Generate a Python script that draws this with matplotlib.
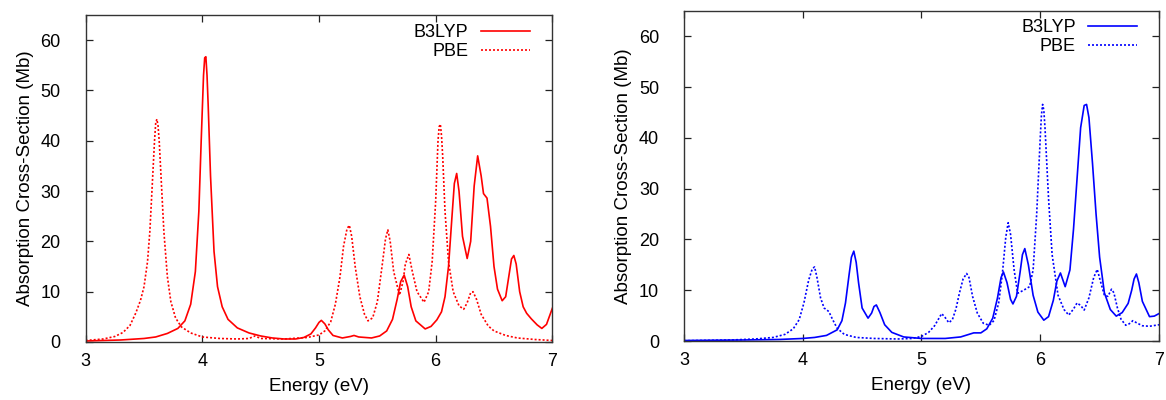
import matplotlib
matplotlib.use("Agg")
import matplotlib.pyplot as plt

plt.rcParams["font.family"] = ["Liberation Sans", "DejaVu Sans"]

# left panel (red): energies (eV) and cross-sections (Mb)
red_b3lyp_e = [3.0, 3.3, 3.5, 3.6, 3.7, 3.79, 3.85, 3.9, 3.94, 3.97, 3.99, 4.01, 4.02, 4.03,
               4.04, 4.05, 4.07, 4.1, 4.13, 4.17, 4.22, 4.3, 4.4, 4.5, 4.6, 4.7, 4.8, 4.87,
               4.93, 4.97, 5.0, 5.02, 5.05, 5.08, 5.12, 5.2, 5.27, 5.3, 5.34, 5.45,
               5.52, 5.58, 5.63, 5.67, 5.7, 5.73, 5.76, 5.79, 5.83, 5.91, 5.96, 6.01,
               6.05, 6.08, 6.11, 6.14, 6.16, 6.18, 6.2, 6.23, 6.27, 6.3, 6.33, 6.36,
               6.39, 6.41, 6.44, 6.47, 6.5, 6.53, 6.57, 6.6, 6.63, 6.65, 6.67, 6.69,
               6.72, 6.75, 6.78, 6.82, 6.87, 6.91, 6.95, 7.0]
red_b3lyp_y = [0.2, 0.4, 0.7, 1.0, 1.7, 2.7, 4.2, 7.5, 14, 26, 40, 53, 56.5, 56.7,
               53, 47, 33, 18, 11, 7, 4.5, 2.8, 1.8, 1.2, 0.8, 0.6, 0.6, 0.9,
               1.6, 2.8, 3.9, 4.3, 3.6, 2.4, 1.3, 0.8, 1.1, 1.3, 1.0, 0.8,
               1.2, 2.2, 4.5, 8.5, 12, 13.3, 11, 7, 4.2, 2.6, 3.1, 4.4,
               6.0, 9.0, 15, 25, 31.5, 33.5, 30, 21, 16.6, 20, 31, 37,
               33, 29.5, 28.6, 23, 15, 10.5, 8.2, 9.0, 13.5, 16.5, 17.2, 15.5,
               10, 7, 5.7, 4.6, 3.4, 2.7, 3.5, 6.7]

red_pbe_e = [3.0, 3.15, 3.25, 3.32, 3.38, 3.43, 3.47, 3.5, 3.53, 3.55, 3.57, 3.59, 3.6, 3.61,
             3.62, 3.63, 3.65, 3.67, 3.7, 3.73, 3.77, 3.82, 3.9, 4.0, 4.15, 4.3, 4.4, 4.45,
             4.5, 4.7, 4.9, 5.0, 5.05, 5.1, 5.14, 5.18, 5.21, 5.24, 5.26, 5.28, 5.31,
             5.35, 5.39, 5.42, 5.46, 5.5, 5.54, 5.57, 5.59, 5.61, 5.64, 5.69, 5.72,
             5.74, 5.77, 5.8, 5.84, 5.9, 5.94, 5.97, 6.0, 6.02, 6.03, 6.04, 6.05, 6.06,
             6.08, 6.11, 6.15, 6.2, 6.24, 6.27, 6.3, 6.32, 6.35, 6.39, 6.45, 6.5, 6.6,
             6.7, 6.85, 7.0]
red_pbe_y = [0.3, 0.6, 1.1, 1.9, 3.3, 5.8, 8.3, 11, 16, 22, 31, 40, 43.5, 44.3,
             43, 40, 31, 22, 13, 8, 4.8, 3.0, 1.8, 1.0, 0.7, 0.6, 0.7, 1.2,
             0.7, 0.6, 0.9, 1.4, 2.2, 4.0, 7.5, 13, 19, 22.5, 23.2, 21, 15,
             9, 5.5, 4.2, 4.8, 8, 15, 20.5, 22.3, 20, 14, 9.3, 12,
             15.5, 17.4, 14, 10, 7.9, 10, 16, 28, 40, 42.8, 43.3, 41, 37,
             26, 16, 10, 7.2, 6.5, 7.8, 9.8, 10, 8.5, 5.5, 3.2, 2.2, 1.3,
             0.8, 0.5, 0.3]

# right panel (blue)
blue_b3lyp_e = [3.0, 3.5, 3.8, 4.0, 4.1, 4.2, 4.29, 4.33, 4.36, 4.39, 4.41, 4.43, 4.45,
                4.47, 4.5, 4.55, 4.58, 4.6, 4.62, 4.65, 4.69, 4.75, 4.85, 5.0, 5.2,
                5.33, 5.44, 5.5, 5.55, 5.6, 5.64, 5.67, 5.69, 5.72, 5.75, 5.77, 5.8,
                5.83, 5.85, 5.87, 5.9, 5.94, 5.98, 6.03, 6.07, 6.11, 6.14, 6.17, 6.21,
                6.25, 6.28, 6.31, 6.34, 6.37, 6.39, 6.41, 6.44, 6.47, 6.5, 6.54, 6.59,
                6.64, 6.69, 6.74, 6.77, 6.79, 6.81, 6.83, 6.86, 6.92, 6.96, 7.0]
blue_b3lyp_y = [0.1, 0.2, 0.3, 0.5, 0.7, 1.1, 2.2, 4, 7.5, 13, 16.5, 17.7, 15.5,
                11.5, 6.5, 4.5, 5.5, 6.8, 7.1, 5.6, 3.2, 1.7, 0.8, 0.5, 0.5,
                0.8, 1.6, 1.6, 2.4, 4.5, 8.5, 12.5, 13.6, 11.5, 8.2, 7.3, 8.8,
                13.5, 17, 18.2, 15, 9, 5.7, 4.1, 4.8, 8, 11.8, 13.4, 10.7,
                14, 22, 32, 42, 46.4, 46.6, 44, 35, 25, 16.5, 9.5, 6.2,
                4.9, 5.6, 7.4, 10, 12.2, 13.2, 11.5, 7.8, 4.8, 4.9, 5.4]

blue_pbe_e = [3.0, 3.4, 3.6, 3.75, 3.85, 3.92, 3.97, 4.01, 4.05, 4.08, 4.1, 4.12, 4.15,
              4.18, 4.22, 4.25, 4.29, 4.35, 4.45, 4.6, 4.8, 4.92, 5.0, 5.06, 5.11,
              5.15, 5.17, 5.2, 5.23, 5.26, 5.29, 5.32, 5.35, 5.38, 5.4, 5.43, 5.47,
              5.52, 5.57, 5.61, 5.65, 5.68, 5.71, 5.73, 5.75, 5.78, 5.81, 5.86, 5.91,
              5.94, 5.97, 6.0, 6.01, 6.02, 6.03, 6.04, 6.07, 6.1, 6.15, 6.2, 6.24,
              6.28, 6.31, 6.34, 6.37, 6.41, 6.45, 6.48, 6.51, 6.54, 6.57, 6.6, 6.62,
              6.65, 6.68, 6.72, 6.75, 6.78, 6.81, 6.86, 6.92, 7.0]
blue_pbe_y = [0.05, 0.2, 0.4, 0.7, 1.3, 2.4, 4.2, 7.5, 12, 14.2, 14.6, 12.5, 8.5,
              6.5, 5.8, 4.3, 2.5, 1.3, 0.7, 0.5, 0.4, 0.5, 0.9, 1.7, 3.0,
              4.6, 5.4, 4.6, 3.6, 4.2, 6.3, 9.5, 12.2, 13.3, 12.5, 8.8, 5.5,
              3.5, 3.1, 4.0, 7.5, 13, 20.5, 23.3, 21, 14, 9.4, 10, 10.7,
              14, 25, 40, 44.5, 46.6, 45.5, 42, 28, 17, 9, 6.2, 5.1,
              6.3, 7.5, 7.0, 6.1, 8.5, 12.5, 14.1, 11.5, 9, 8.8, 10.2, 9.5,
              6.5, 4.3, 3.1, 3.4, 4.0, 3.6, 3.0, 2.9, 3.2]

series_names = ["B3LYP", "PBE"]
xticks = [3, 4, 5, 6, 7]
yticks = [0, 10, 20, 30, 40, 50, 60]


def style_axes(ax, legend_anchor):
    ax.set_xlim(3, 7)
    ax.set_ylim(0, 65)
    ax.set_xticks(xticks)
    ax.set_yticks(yticks)
    ax.tick_params(direction="in", top=True, right=True, length=5, width=0.9,
                   labelsize=13, colors="#222222", labelcolor="black")
    ax.tick_params(axis="x", pad=8)
    ax.tick_params(axis="y", pad=18)
    for s in ax.spines.values():
        s.set_linewidth(1.0)
        s.set_color("#333333")
    ax.set_xlabel("Energy (eV)", fontsize=13.5, labelpad=6)
    ax.set_ylabel("Absorption Cross-Section (Mb)", fontsize=13.5, labelpad=5)
    ax.legend(loc="upper right", bbox_to_anchor=legend_anchor, frameon=False,
              markerfirst=False, fontsize=13, handlelength=2.7, handletextpad=0.7,
              labelspacing=0.12, borderaxespad=0.0, borderpad=0.0)


fig = plt.figure(figsize=(11.66, 4.0), dpi=100)
ax1 = fig.add_axes([0.0735, 0.145, 0.4002, 0.8175])
ax2 = fig.add_axes([0.5866, 0.1475, 0.4074, 0.825])

dot = (0, (1.2, 1.2))

ax1.plot(red_b3lyp_e, red_b3lyp_y, color="#ff0000", lw=1.2, label=series_names[0])
ax1.plot(red_pbe_e, red_pbe_y, color="#ff0000", lw=1.2, ls=dot, label=series_names[1])
style_axes(ax1, (0.952, 0.972))

ax2.plot(blue_b3lyp_e, blue_b3lyp_y, color="#0000ff", lw=1.2, label=series_names[0])
ax2.plot(blue_pbe_e, blue_pbe_y, color="#0000ff", lw=1.2, ls=dot, label=series_names[1])
style_axes(ax2, (0.954, 0.975))

fig.savefig("out.png", dpi=100)
